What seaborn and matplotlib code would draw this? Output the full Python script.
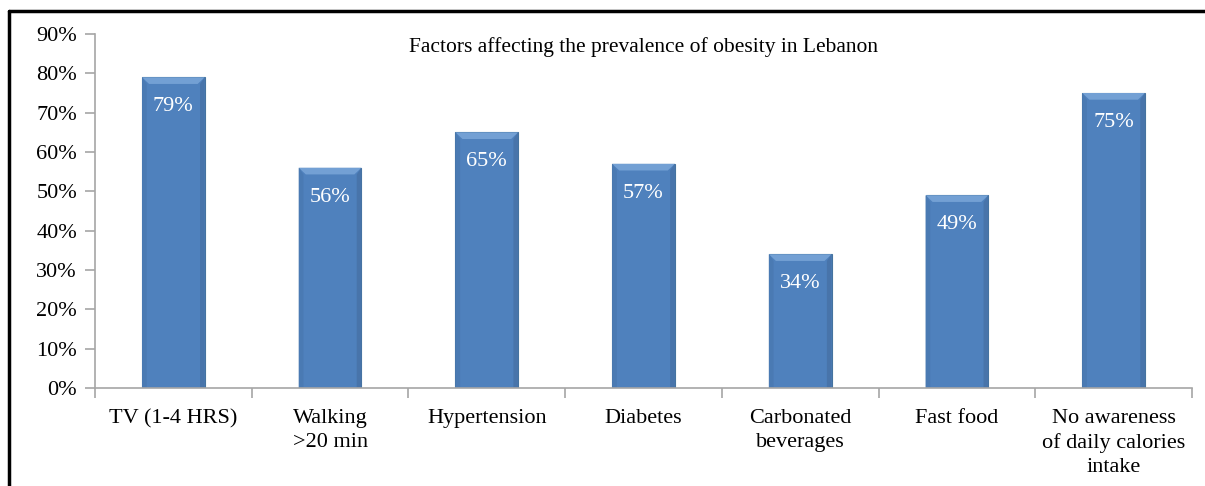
import matplotlib
matplotlib.use("Agg")
import matplotlib.pyplot as plt
import matplotlib.lines as mlines
import numpy as np
import pandas as pd
import seaborn as sns

factors = ["TV (1-4 HRS)", "Walking\n>20 min", "Hypertension", "Diabetes",
           "Carbonated\nbeverages", "Fast food",
           "No awareness\nof daily calories\nintake"]
prevalence = [79, 56, 65, 57, 34, 49, 75]
y_ticks = [0, 10, 20, 30, 40, 50, 60, 70, 80, 90]
title = "Factors affecting the prevalence of obesity in Lebanon"

sns.set_theme(style="white")
plt.rcParams["font.family"] = ["Liberation Serif", "DejaVu Serif"]

df = pd.DataFrame({"factor": factors, "value": prevalence})

fig = plt.figure(figsize=(12.05, 4.86), dpi=100)
ax = fig.add_axes([95 / 1205, 1 - 388 / 486, (1192 - 95) / 1205, (388 - 34) / 486])

bar_color = "#4F81BD"
sns.barplot(data=df, x="factor", y="value", color=bar_color, width=0.4,
            saturation=1, ax=ax, edgecolor="#45739F", linewidth=0.8)

# soft shading on the bars: lighter bevel at the top, slightly darker sides
for patch in ax.patches:
    x0, y0 = patch.get_x(), patch.get_y()
    w, h = patch.get_width(), patch.get_height()
    bev = 0.03
    bev_y = 1.7
    z = patch.get_zorder() + 0.1
    top = plt.Polygon([[x0, y0 + h], [x0 + w, y0 + h], [x0 + w - bev * 1.5, y0 + h - bev_y],
                       [x0 + bev * 1.5, y0 + h - bev_y]], closed=True,
                      facecolor="#73A0D4", edgecolor="none", zorder=z)
    left = plt.Polygon([[x0, y0], [x0, y0 + h], [x0 + bev, y0 + h - bev_y], [x0 + bev, y0]],
                       closed=True, facecolor="#4A7AB3", edgecolor="none", zorder=z)
    right = plt.Polygon([[x0 + w, y0], [x0 + w, y0 + h], [x0 + w - bev, y0 + h - bev_y],
                         [x0 + w - bev, y0]], closed=True, facecolor="#4874AA",
                        edgecolor="none", zorder=z)
    ax.add_patch(top)
    ax.add_patch(left)
    ax.add_patch(right)

for i, v in enumerate(prevalence):
    ax.text(i, v - 7.5, f"{v}%", ha="center", va="center", color="white",
            fontsize=16, zorder=5)

ax.set_xlim(-0.5, len(factors) - 0.5)
ax.set_ylim(0, 90)
ax.set_yticks(y_ticks)
ax.set_yticklabels([f"{t}%" for t in y_ticks], fontsize=16, color="black")
ax.set_xlabel("")
ax.set_ylabel("")
ax.set_xticks(range(len(factors)))
ax.set_xticklabels(factors, linespacing=1.37)
ax.tick_params(axis="x", which="major", length=0, labelsize=16, pad=15, labelcolor="black")
ax.set_xticks(np.arange(-0.5, len(factors)), minor=True)
ax.tick_params(axis="x", which="minor", length=7, color="#A6A6A6", width=1.2, direction="out")
ax.tick_params(axis="y", length=7, color="#A6A6A6", width=1.2, direction="out", pad=6)
ax.xaxis.set_ticks_position("bottom")
ax.yaxis.set_ticks_position("left")

for s in ["top", "right"]:
    ax.spines[s].set_visible(False)
for s in ["left", "bottom"]:
    ax.spines[s].set_color("#A6A6A6")
    ax.spines[s].set_linewidth(1.2)

ax.text(0.5, 0.962, title, transform=ax.transAxes, ha="center", va="center",
        fontsize=15.5, color="black")

# frame around the chart area
fig.add_artist(mlines.Line2D([9 / 1205, 9 / 1205], [0, 1 - 11 / 486], color="black",
                             linewidth=2.5, transform=fig.transFigure))
fig.add_artist(mlines.Line2D([9 / 1205, 1], [1 - 11 / 486, 1 - 11 / 486], color="black",
                             linewidth=2.5, transform=fig.transFigure))

fig.savefig("out.png", dpi=100)
